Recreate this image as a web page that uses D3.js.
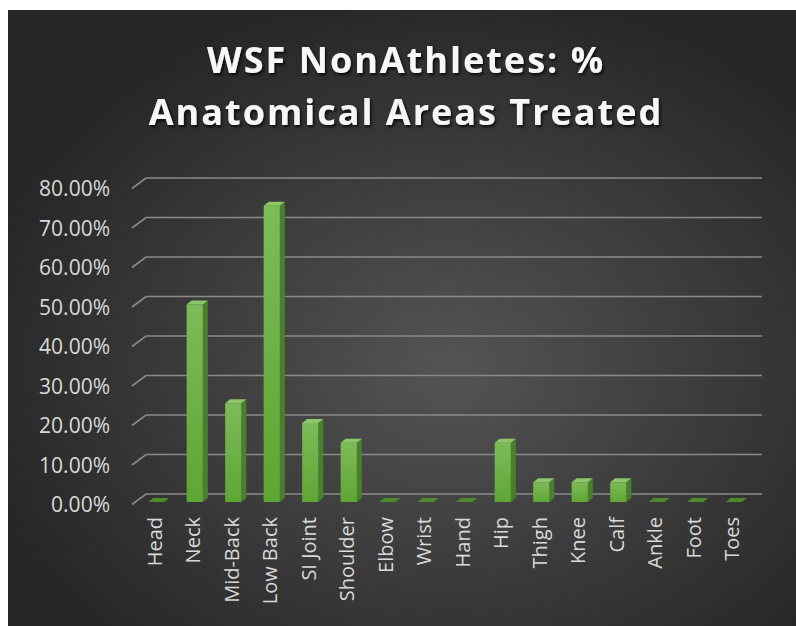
<!DOCTYPE html>
<html>
<head>
<meta charset="utf-8">
<script src="https://cdn.jsdelivr.net/npm/d3@7"></script>
<style>
  body { margin: 0; background: #fff; }
  text { font-family: "Open Sans", "Segoe UI", sans-serif; }
</style>
</head>
<body>
<div id="main"></div>
<script>
const categories = ["Head", "Neck", "Mid-Back", "Low Back", "SI Joint", "Shoulder", "Elbow", "Wrist",
                    "Hand", "Hip", "Thigh", "Knee", "Calf", "Ankle", "Foot", "Toes"];
const values = [0, 0.50, 0.25, 0.75, 0.20, 0.15, 0, 0, 0, 0.15, 0.05, 0.05, 0.05, 0, 0, 0];
const yTicks = [0, 0.1, 0.2, 0.3, 0.4, 0.5, 0.6, 0.7, 0.8];
const titleLines = ["WSF NonAthletes: %", "Anatomical Areas Treated"];

const ctx = { w: 796, h: 626, depthX: 14, depthY: 10.5 };

function createViz() {
    const svg = d3.select("#main").append("svg")
        .attr("width", ctx.w).attr("height", ctx.h);
    const defs = svg.append("defs");

    // background radial gradient
    const bg = defs.append("radialGradient").attr("id", "bgGrad")
        .attr("cx", "56%").attr("cy", "58%").attr("r", "62%");
    bg.append("stop").attr("offset", "0%").attr("stop-color", "#545454");
    bg.append("stop").attr("offset", "100%").attr("stop-color", "#262626");

    const front = defs.append("linearGradient").attr("id", "frontGrad")
        .attr("x1", 0).attr("y1", 0).attr("x2", 0).attr("y2", 1);
    front.append("stop").attr("offset", "0%").attr("stop-color", "#7dbb58");
    front.append("stop").attr("offset", "100%").attr("stop-color", "#5ea634");

    const shadow = defs.append("filter").attr("id", "shadow")
        .attr("x", "-10%").attr("y", "-30%").attr("width", "120%").attr("height", "160%");
    shadow.append("feDropShadow").attr("dx", 1.5).attr("dy", 2).attr("stdDeviation", 1.5)
        .attr("flood-color", "#000").attr("flood-opacity", 0.8);

    svg.append("rect").attr("x", 8).attr("y", 10)
        .attr("width", ctx.w - 8).attr("height", ctx.h - 10)
        .attr("fill", "url(#bgGrad)");

    // scales: y for the back wall, x for the front of the floor
    const y = d3.scaleLinear().domain([0, 0.8]).range([494, 178]);
    const x = d3.scaleBand().domain(categories).range([132, 748]);
    const barW = x.bandwidth() * 0.42;
    const fmt = d3.format(".2%");

    // 3D gridlines
    const grid = svg.append("g");
    grid.selectAll("path").data(yTicks).join("path")
        .attr("d", d => `M132,${y(d) + ctx.depthY}L${132 + ctx.depthX},${y(d)}L762,${y(d)}`)
        .attr("fill", "none").attr("stroke", "#8a8a8a").attr("stroke-width", 1.6);

    // y labels
    svg.append("g").selectAll("text").data(yTicks).join("text")
        .attr("x", 110).attr("y", d => y(d) + 10)
        .attr("text-anchor", "end").attr("dominant-baseline", "central")
        .attr("fill", "#d9d9d9").style("font-size", "21px")
        .text(d => fmt(d));

    // bars (front face sits in the middle of the floor depth)
    const ox = 5, oy = 8, bx = 5, by = 4;
    const bars = svg.append("g").selectAll("g").data(categories).join("g");
    bars.each(function(c, i) {
        const g = d3.select(this);
        const v = values[i];
        const xl = x(c) + x.bandwidth() / 2 - barW / 2 + ox;
        const xr = xl + barW;
        const yt = y(v) + oy, yb = y(0) + oy;
        if (v > 0) {
            g.append("path")
                .attr("d", `M${xr},${yt}L${xr + bx},${yt - by}L${xr + bx},${yb - by}L${xr},${yb}Z`)
                .attr("fill", "#4a7f2c");
            g.append("rect").attr("x", xl).attr("y", yt)
                .attr("width", barW).attr("height", yb - yt)
                .attr("fill", "url(#frontGrad)");
        }
        g.append("path")
            .attr("d", `M${xl},${yt}L${xr},${yt}L${xr + bx},${yt - by}L${xl + bx},${yt - by}Z`)
            .attr("fill", v > 0 ? "#8cc768" : "#4f8a2c");
    });

    // x labels
    svg.append("g").selectAll("text").data(categories).join("text")
        .attr("transform", d => `translate(${x(d) + x.bandwidth() / 2 + 3},517) rotate(-90)`)
        .attr("text-anchor", "end").attr("dominant-baseline", "central")
        .attr("fill", "#d9d9d9").style("font-size", "20px")
        .text(d => d);

    // title
    svg.append("g").attr("filter", "url(#shadow)").selectAll("text").data(titleLines).join("text")
        .attr("x", 406).attr("y", (d, i) => 73 + i * 52)
        .attr("text-anchor", "middle").attr("fill", "#f7f7f7")
        .style("font-size", "36px").style("font-weight", "bold").style("letter-spacing", "2px")
        .text(d => d);
}

createViz();
</script>
</body>
</html>
